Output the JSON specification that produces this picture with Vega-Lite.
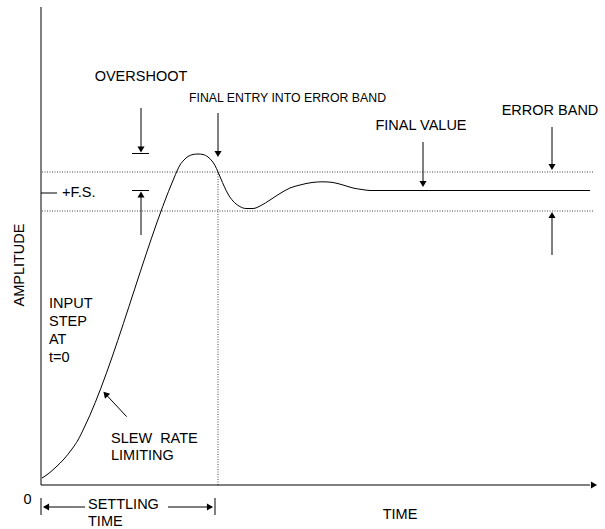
{
  "$schema": "https://vega.github.io/schema/vega-lite/v6.json",
  "width": 605,
  "height": 529,
  "autosize": {"type": "fit", "contains": "padding"},
  "padding": 0,
  "background": "white",
  "config": {"view": {"stroke": null}},
  "datasets": {
    "solid": [
      {"id": "yaxis", "o": 0, "t": 0, "a": 0}, {"id": "yaxis", "o": 1, "t": 0, "a": 478},
      {"id": "xaxis", "o": 0, "t": 0, "a": 0}, {"id": "xaxis", "o": 1, "t": 549, "a": 0},
      {"id": "fs", "o": 0, "t": 0, "a": 292}, {"id": "fs", "o": 1, "t": 16, "a": 292},
      {"id": "ov_arrow", "o": 0, "t": 100, "a": 377}, {"id": "ov_arrow", "o": 1, "t": 100, "a": 337},
      {"id": "ov_tick", "o": 0, "t": 91, "a": 331.5}, {"id": "ov_tick", "o": 1, "t": 108, "a": 331.5},
      {"id": "lo_tick", "o": 0, "t": 91, "a": 294.5}, {"id": "lo_tick", "o": 1, "t": 108, "a": 294.5},
      {"id": "lo_arrow", "o": 0, "t": 100, "a": 250}, {"id": "lo_arrow", "o": 1, "t": 100, "a": 290},
      {"id": "fe_arrow", "o": 0, "t": 177, "a": 372}, {"id": "fe_arrow", "o": 1, "t": 177, "a": 332},
      {"id": "fv_arrow", "o": 0, "t": 382, "a": 343}, {"id": "fv_arrow", "o": 1, "t": 382, "a": 302},
      {"id": "eb_top", "o": 0, "t": 511, "a": 358}, {"id": "eb_top", "o": 1, "t": 511, "a": 319},
      {"id": "eb_bot", "o": 0, "t": 511, "a": 230}, {"id": "eb_bot", "o": 1, "t": 511, "a": 269},
      {"id": "slew", "o": 0, "t": 85.7, "a": 68.3}, {"id": "slew", "o": 1, "t": 65, "a": 90.5},
      {"id": "st_ltick", "o": 0, "t": 0, "a": -13}, {"id": "st_ltick", "o": 1, "t": 0, "a": -30},
      {"id": "st_larrow", "o": 0, "t": 3, "a": -22}, {"id": "st_larrow", "o": 1, "t": 44, "a": -22},
      {"id": "st_rarrow", "o": 0, "t": 127, "a": -22}, {"id": "st_rarrow", "o": 1, "t": 171, "a": -22},
      {"id": "st_rtick", "o": 0, "t": 174, "a": -13}, {"id": "st_rtick", "o": 1, "t": 174, "a": -30}
    ],
    "dotted": [
      {"id": "upper", "o": 0, "t": 1, "a": 313}, {"id": "upper", "o": 1, "t": 552, "a": 313},
      {"id": "lower", "o": 0, "t": 1, "a": 274}, {"id": "lower", "o": 1, "t": 552, "a": 274},
      {"id": "vert", "o": 0, "t": 177, "a": 0}, {"id": "vert", "o": 1, "t": 177, "a": 313}
    ],
    "curve": [
      {"t": 1, "a": 7}, {"t": 7, "a": 11}, {"t": 15, "a": 18}, {"t": 23, "a": 26},
      {"t": 31, "a": 36}, {"t": 37, "a": 45}, {"t": 43, "a": 57}, {"t": 133, "a": 307},
      {"t": 136, "a": 314}, {"t": 139, "a": 320}, {"t": 143, "a": 325}, {"t": 147, "a": 328.5},
      {"t": 152, "a": 330.5}, {"t": 157, "a": 331}, {"t": 162, "a": 330.5}, {"t": 167, "a": 328},
      {"t": 171, "a": 324}, {"t": 174, "a": 319.5}, {"t": 177, "a": 313}, {"t": 180, "a": 306},
      {"t": 183, "a": 299}, {"t": 187, "a": 291}, {"t": 192, "a": 284}, {"t": 198, "a": 279},
      {"t": 205, "a": 276.5}, {"t": 212, "a": 276.5}, {"t": 220, "a": 279.5}, {"t": 229, "a": 285},
      {"t": 239, "a": 291.5}, {"t": 249, "a": 297}, {"t": 259, "a": 300}, {"t": 271, "a": 302.5},
      {"t": 282, "a": 303.2}, {"t": 292, "a": 302.5}, {"t": 302, "a": 300}, {"t": 312, "a": 297},
      {"t": 321, "a": 295.5}, {"t": 329, "a": 294.5}, {"t": 549, "a": 294.5}
    ],
    "heads": [
      {"t": 553, "a": 0, "shape": "triangle-right", "angle": 0},
      {"t": 100, "a": 335.5, "shape": "triangle-down", "angle": 0},
      {"t": 100, "a": 290.5, "shape": "triangle-up", "angle": 0},
      {"t": 177, "a": 331, "shape": "triangle-down", "angle": 0},
      {"t": 382, "a": 301, "shape": "triangle-down", "angle": 0},
      {"t": 511, "a": 318, "shape": "triangle-down", "angle": 0},
      {"t": 511, "a": 270, "shape": "triangle-up", "angle": 0},
      {"t": 64.5, "a": 91, "shape": "triangle-up", "angle": 317},
      {"t": 5, "a": -22, "shape": "triangle-left", "angle": 0},
      {"t": 169, "a": -22, "shape": "triangle-right", "angle": 0}
    ],
    "labels_center": [
      {"label": "OVERSHOOT", "t": 100, "a": 408, "angle": 0},
      {"label": "FINAL VALUE", "t": 380, "a": 359, "angle": 0},
      {"label": "ERROR BAND", "t": 509, "a": 374, "angle": 0},
      {"label": "AMPLITUDE", "t": -21, "a": 220, "angle": 270},
      {"label": "0", "t": -13.5, "a": -14.5, "angle": 0},
      {"label": "TIME", "t": 359, "a": -30, "angle": 0}
    ],
    "labels_left": [
      {"label": "+F.S.", "t": 21, "a": 292},
      {"label": "INPUT", "t": 8, "a": 181},
      {"label": "STEP", "t": 8, "a": 163},
      {"label": "AT", "t": 8, "a": 145},
      {"label": "t=0", "t": 8, "a": 127},
      {"label": "SLEW\u00a0\u00a0RATE", "t": 70, "a": 46.3},
      {"label": "LIMITING", "t": 70, "a": 29.3},
      {"label": "SETTLING", "t": 47, "a": -20},
      {"label": "TIME", "t": 47, "a": -37}
    ],
    "labels_entry": [
      {"label": "FINAL ENTRY INTO ERROR BAND", "t": 148, "a": 387.5}
    ]
  },
  "encoding": {
    "x": {"field": "t", "type": "quantitative", "scale": {"domain": [-41, 564], "nice": false, "zero": false}, "axis": null},
    "y": {"field": "a", "type": "quantitative", "scale": {"domain": [-44, 485], "nice": false, "zero": false}, "axis": null}
  },
  "layer": [
    {
      "data": {"name": "dotted"},
      "mark": {"type": "line", "stroke": "#444444", "strokeWidth": 1, "strokeDash": [1, 1.5]},
      "encoding": {"detail": {"field": "id"}, "order": {"field": "o"}}
    },
    {
      "data": {"name": "solid"},
      "mark": {"type": "line", "stroke": "black", "strokeWidth": 1},
      "encoding": {"detail": {"field": "id"}, "order": {"field": "o"}}
    },
    {
      "data": {"name": "curve"},
      "mark": {"type": "line", "stroke": "black", "strokeWidth": 1, "interpolate": "monotone"},
      "encoding": {"order": {"field": "t"}}
    },
    {
      "data": {"name": "heads"},
      "mark": {"type": "point", "filled": true, "color": "black", "size": 50, "opacity": 1},
      "encoding": {
        "shape": {"field": "shape", "type": "nominal", "scale": null},
        "angle": {"field": "angle", "type": "quantitative", "scale": null}
      }
    },
    {
      "data": {"name": "labels_center"},
      "mark": {"type": "text", "font": "Liberation Sans", "fontSize": 14.5, "align": "center", "baseline": "middle", "color": "black"},
      "encoding": {
        "text": {"field": "label"},
        "angle": {"field": "angle", "type": "quantitative", "scale": null}
      }
    },
    {
      "data": {"name": "labels_left"},
      "mark": {"type": "text", "font": "Liberation Sans", "fontSize": 14.5, "align": "left", "baseline": "middle", "color": "black"},
      "encoding": {"text": {"field": "label"}}
    },
    {
      "data": {"name": "labels_entry"},
      "mark": {"type": "text", "font": "Liberation Sans", "fontSize": 12.3, "align": "left", "baseline": "middle", "color": "black"},
      "encoding": {"text": {"field": "label"}}
    }
  ]
}
